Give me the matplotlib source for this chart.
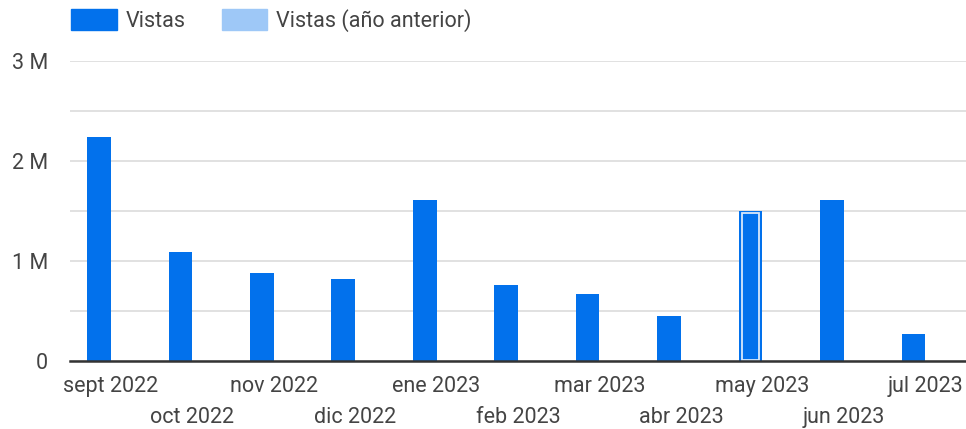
import numpy as np
import matplotlib.pyplot as plt
from matplotlib.patches import Patch

plt.rcParams['font.family'] = ['Roboto', 'DejaVu Sans']

months = ['sept 2022', 'oct 2022', 'nov 2022', 'dic 2022', 'ene 2023', 'feb 2023',
          'mar 2023', 'abr 2023', 'may 2023', 'jun 2023', 'jul 2023']
vistas = [2.24e6, 1.09e6, 0.88e6, 0.82e6, 1.61e6, 0.76e6, 0.67e6, 0.45e6, 1.50e6, 1.61e6, 0.27e6]
vistas_prev = [0, 0, 0, 0, 0, 0, 0, 0, 0, 0, 0]
highlight = 'may 2023'

blue = '#0271ec'
light = '#9ec8f7'
txt = '#444444'
fs = 15.5

fig = plt.figure(figsize=(9.66, 4.29), dpi=100)
ax = fig.add_axes([70/966, 68/429, 896/966, 300/429])

x = np.arange(len(months))
w = 0.29
ax.bar(x - w/2, vistas, width=w, color=blue, zorder=3)
ax.bar(x + w/2, vistas_prev, width=w, color=light, zorder=3)

i = months.index(highlight)
ax.bar(x[i] - w/2, vistas[i] * 0.975, width=w * 0.72, bottom=vistas[i] * 0.01,
       facecolor='none', edgecolor='#d8e8fb', linewidth=1.3, zorder=4)

ax.set_xlim(-0.5, len(months) - 0.5)
ax.set_ylim(0, 3e6)
ax.set_yticks([0, 1e6, 2e6, 3e6])
ax.set_yticklabels(['0', '1 M', '2 M', '3 M'])
ax.set_yticks([0.5e6, 1.5e6, 2.5e6], minor=True)
ax.grid(axis='y', which='both', color='#dcdcdc', linewidth=1.2, zorder=0)
ax.tick_params(axis='y', which='both', length=0, pad=16, labelsize=fs, labelcolor=txt)
ax.tick_params(axis='x', length=0, pad=11, labelsize=fs, labelcolor=txt)
ax.set_xticks(x)
ax.set_xticklabels([m if k % 2 == 0 else '\n' + m for k, m in enumerate(months)], linespacing=1.6)

for s in ['top', 'right', 'left']:
    ax.spines[s].set_visible(False)
ax.spines['bottom'].set_color('#333333')
ax.spines['bottom'].set_linewidth(1.8)
ax.spines['bottom'].set_zorder(5)

handles = [Patch(color=blue, label='Vistas'), Patch(color=light, label='Vistas (año anterior)')]
fig.legend(handles=handles, loc='upper left', bbox_to_anchor=(52/966, 1.025), ncol=2,
           frameon=False, fontsize=fs, labelcolor=txt, handlelength=2.1, handleheight=1.1,
           handletextpad=0.4, columnspacing=1.7)

fig.savefig('out.png', dpi=100)
